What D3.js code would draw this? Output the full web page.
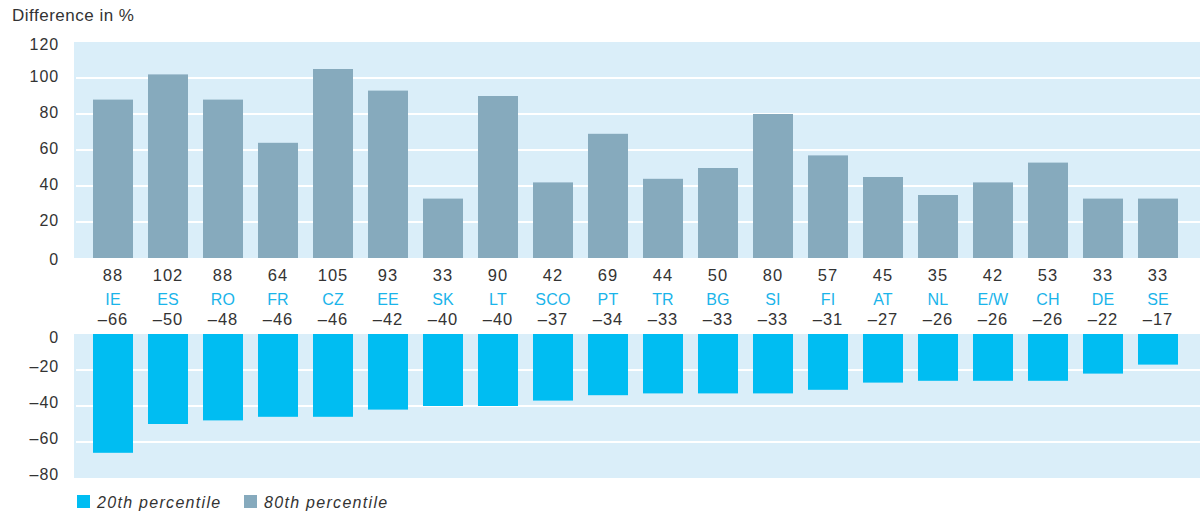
<!DOCTYPE html>
<html>
<head>
<meta charset="utf-8">
<script src="https://cdn.jsdelivr.net/npm/d3@7"></script>
<style>
  html, body { margin: 0; padding: 0; background: #ffffff; }
  svg { display: block; }
  text { font-family: "Liberation Sans", Arial, sans-serif; }
</style>
</head>
<body>
<svg id="chart" width="1200" height="511"></svg>
<script>
const countries = ["IE","ES","RO","FR","CZ","EE","SK","LT","SCO","PT","TR","BG","SI","FI","AT","NL","E/W","CH","DE","SE"];
const p80 = [88,102,88,64,105,93,33,90,42,69,44,50,80,57,45,35,42,53,33,33];
const p20 = [-66,-50,-48,-46,-46,-42,-40,-40,-37,-34,-33,-33,-33,-31,-27,-26,-26,-26,-22,-17];
const topTicks = [0,20,40,60,80,100,120];
const bottomTicks = [0,-20,-40,-60,-80];
const legendLabels = ["20th percentile","80th percentile"];
const yTitle = "Difference in %";

const C80 = "#86aabd", C20 = "#00bdf2", BG = "#daeef9", CLAB = "#1ab4ea", TXT = "#333333";
const fmt = v => v < 0 ? "\u2013" + Math.abs(v) : String(v);

const svg = d3.select("#chart");
const panelX0 = 74, panelX1 = 1200;

const x = d3.scaleBand().domain(countries).range([85.5, 1185.5]).paddingInner(15/55).paddingOuter(7.5/55);
const yTop = d3.scaleLinear().domain([0,120]).range([258, 42]);
const yBot = d3.scaleLinear().domain([-80,0]).range([478, 334]);

// title
svg.append("text").attr("x", 12).attr("y", 21).attr("font-size", 17).attr("letter-spacing", 0.5)
  .attr("fill", TXT).text(yTitle);

function panel(y, ticks, lo, hi, labelShift) {
  svg.append("rect").attr("x", panelX0).attr("y", y(hi)).attr("width", panelX1 - panelX0)
    .attr("height", y(lo) - y(hi)).attr("fill", BG);
  svg.append("g").selectAll("line").data(ticks.filter(t => t !== lo && t !== hi && t !== 0)).join("line")
    .attr("x1", panelX0 + 2).attr("x2", panelX1).attr("y1", d => y(d)).attr("y2", d => y(d))
    .attr("stroke", "#ffffff").attr("stroke-width", 2);
  svg.append("g").selectAll("text").data(ticks).join("text")
    .attr("x", 59).attr("y", d => y(d) + labelShift(d)).attr("dy", "0.36em").attr("text-anchor", "end")
    .attr("font-size", 16).attr("letter-spacing", 0.9).attr("fill", TXT).text(fmt);
}
panel(yTop, topTicks, 0, 120, d => d === 120 ? 2 : (d === 0 ? 1 : -2));
panel(yBot, bottomTicks, -80, 0, d => d === 0 ? 3 : -3.5);

// white line under top panel
svg.append("line").attr("x1", panelX0).attr("x2", panelX1).attr("y1", yTop(0) + 1.5).attr("y2", yTop(0) + 1.5)
  .attr("stroke", "#ffffff").attr("stroke-width", 2);

// bars
svg.append("g").selectAll("rect").data(countries).join("rect")
  .attr("x", d => x(d)).attr("width", x.bandwidth())
  .attr("y", (d, i) => yTop(p80[i])).attr("height", (d, i) => yTop(0) - yTop(p80[i]))
  .attr("fill", C80);
svg.append("g").selectAll("rect").data(countries).join("rect")
  .attr("x", d => x(d)).attr("width", x.bandwidth())
  .attr("y", yBot(0)).attr("height", (d, i) => yBot(p20[i]) - yBot(0))
  .attr("fill", C20);

// labels
const cx = d => x(d) + x.bandwidth() / 2;
svg.append("g").selectAll("text").data(countries).join("text")
  .attr("x", cx).attr("y", 281).attr("text-anchor", "middle").attr("font-size", 16.5)
  .attr("letter-spacing", 1).attr("fill", TXT).text((d, i) => fmt(p80[i]));
svg.append("g").selectAll("text").data(countries).join("text")
  .attr("x", cx).attr("y", 305).attr("text-anchor", "middle").attr("font-size", 16)
  .attr("letter-spacing", 0.2).attr("fill", CLAB).text(d => d);
svg.append("g").selectAll("text").data(countries).join("text")
  .attr("x", cx).attr("y", 324.5).attr("text-anchor", "middle").attr("font-size", 16.5)
  .attr("letter-spacing", 1).attr("fill", TXT).text((d, i) => fmt(p20[i]));

// legend
const legX = [77, 244], legC = [C20, C80];
legendLabels.forEach((t, i) => {
  svg.append("rect").attr("x", legX[i]).attr("y", 495).attr("width", 13).attr("height", 13).attr("fill", legC[i]);
  svg.append("text").attr("x", legX[i] + 20).attr("y", 507.5).attr("font-size", 16).attr("font-style", "italic")
    .attr("letter-spacing", 1.3).attr("fill", TXT).text(t);
});
</script>
</body>
</html>
